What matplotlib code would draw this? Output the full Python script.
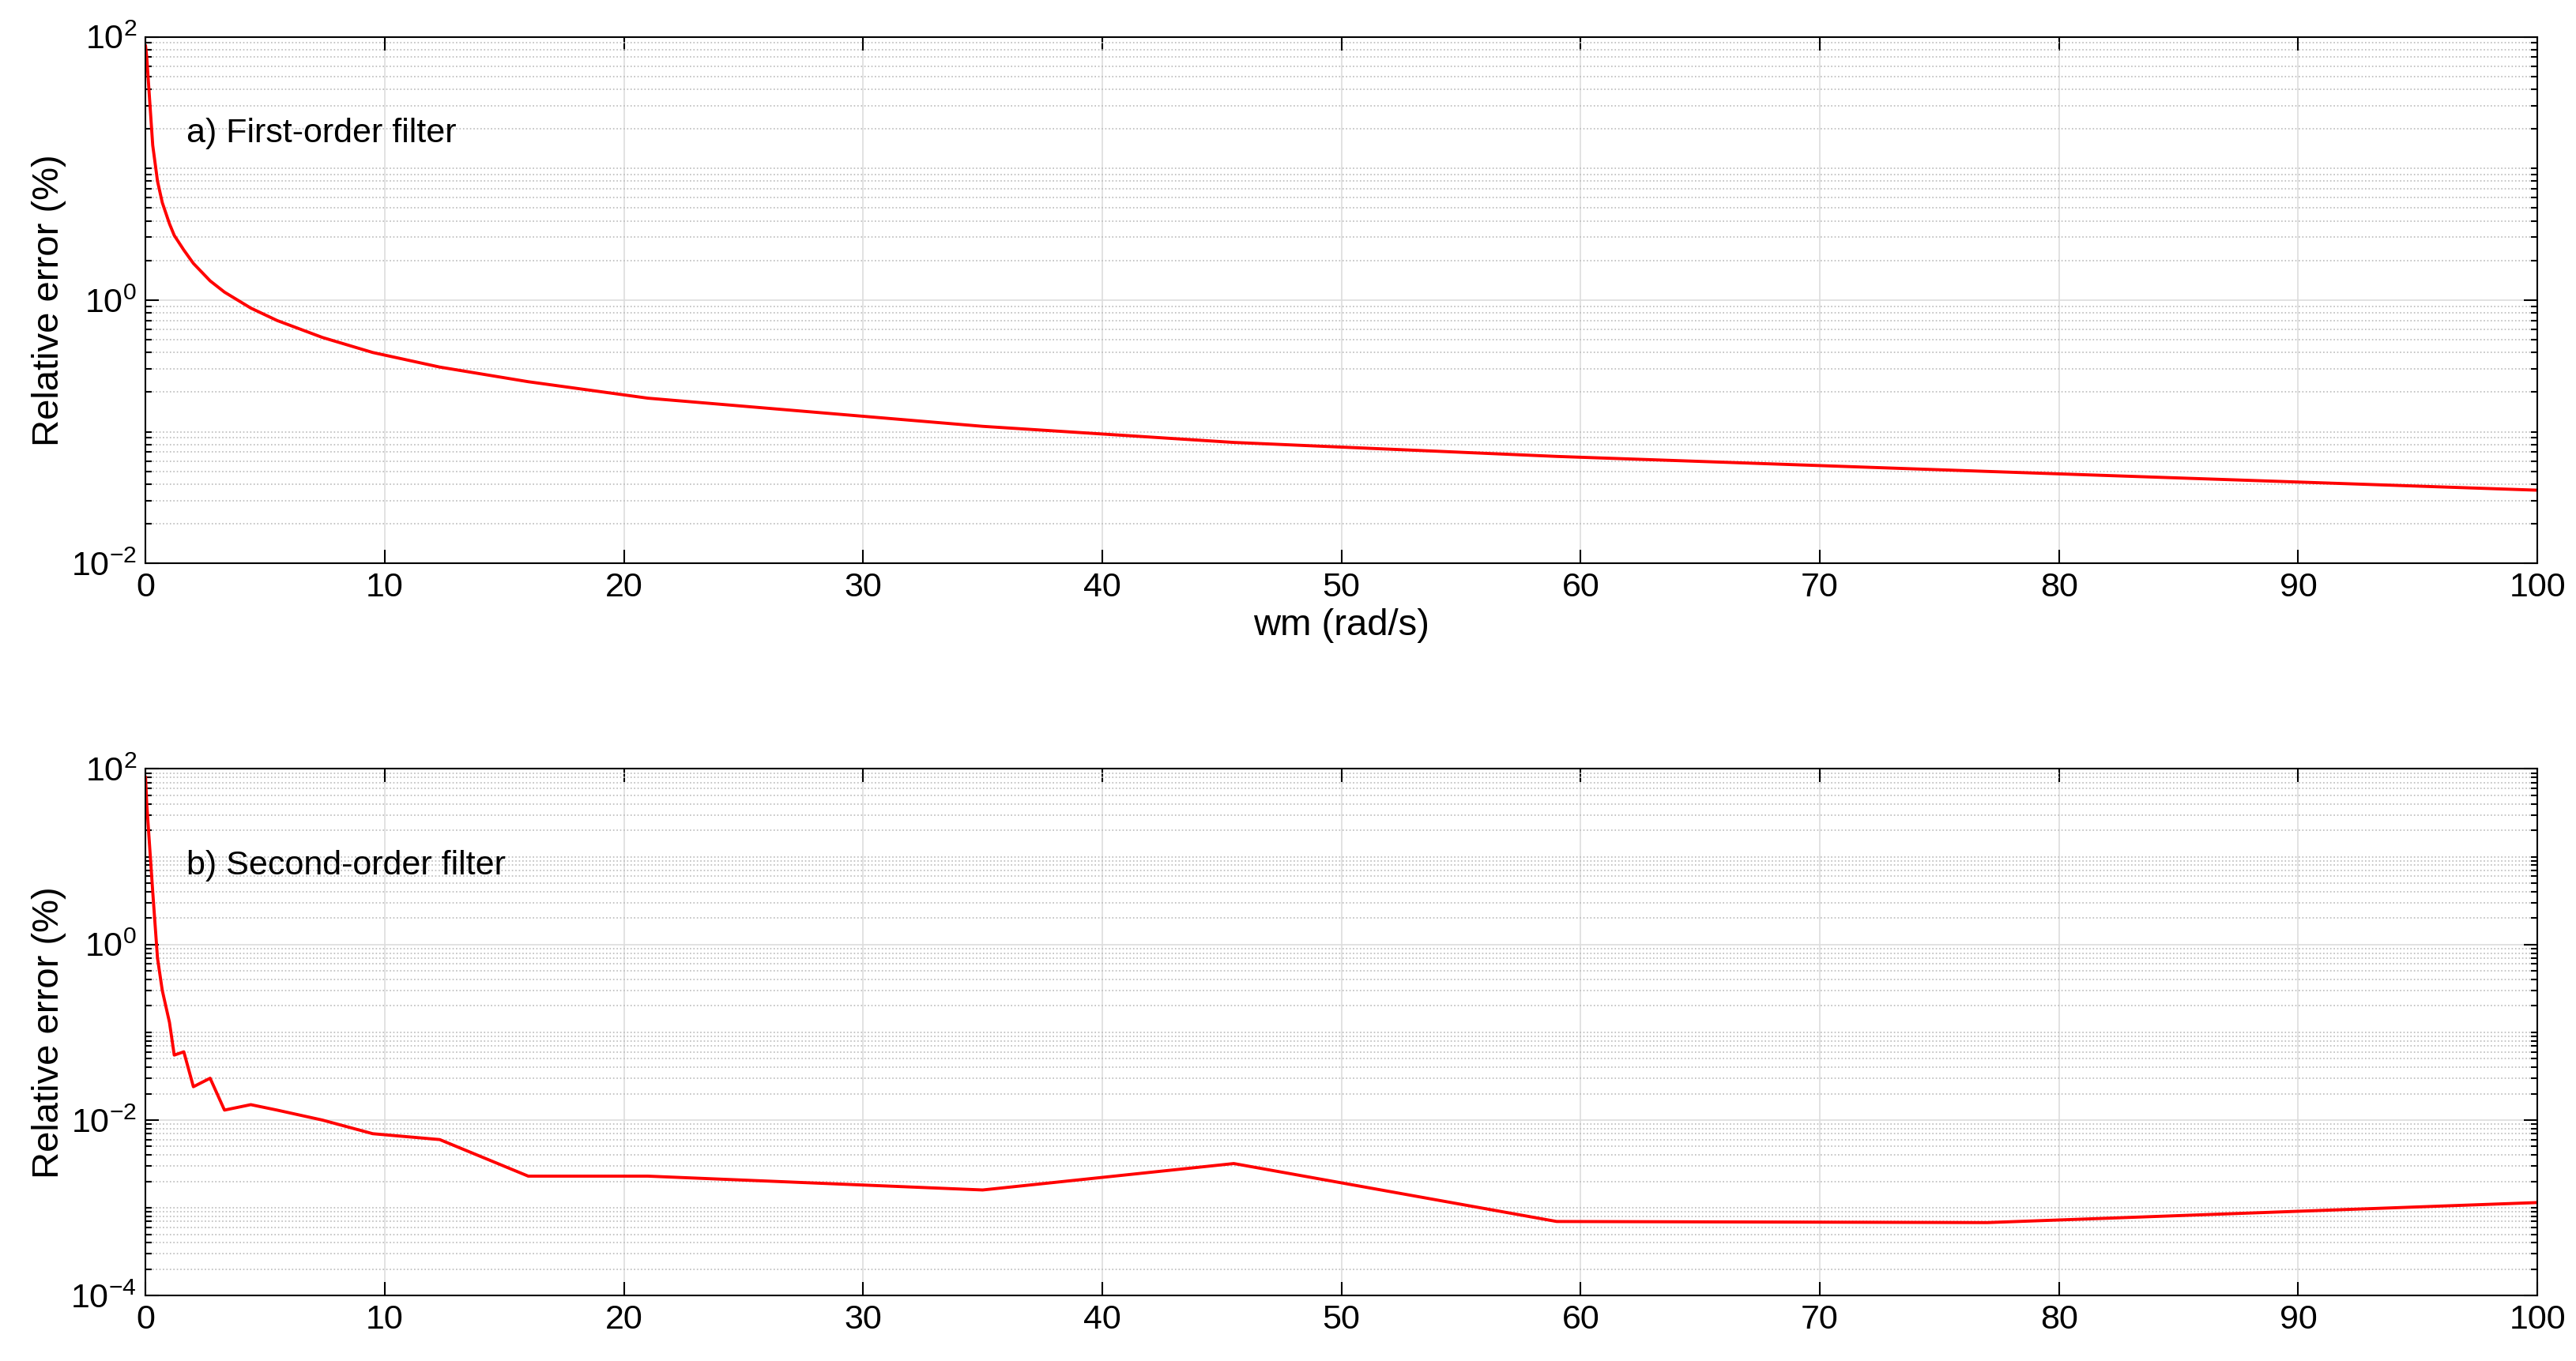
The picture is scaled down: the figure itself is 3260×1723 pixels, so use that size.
import matplotlib
matplotlib.use("Agg")
import matplotlib.pyplot as plt
import matplotlib.ticker as mt
import numpy as np

plt.rcParams['font.family'] = ['Liberation Sans', 'DejaVu Sans']
plt.rcParams['mathtext.fontset'] = 'custom'
plt.rcParams['mathtext.rm'] = 'Liberation Sans'

wm = [0.0, 0.05, 0.3, 0.5, 0.7, 1.0, 1.2, 1.6, 2.0, 2.7, 3.3, 4.4, 5.5, 7.4, 9.5,
      12.3, 16, 21, 35, 45.5, 59, 77, 100]
err1 = [85, 70, 15, 8, 5.5, 3.8, 3.1, 2.4, 1.9, 1.4, 1.15, 0.87, 0.7, 0.52, 0.4,
        0.31, 0.24, 0.18, 0.11, 0.083, 0.065, 0.05, 0.036]
err2 = [80, 40, 4, 0.7, 0.3, 0.13, 0.055, 0.06, 0.024, 0.03, 0.013, 0.015, 0.013,
        0.01, 0.007, 0.006, 0.0023, 0.0023, 0.0016, 0.0032, 0.0007, 0.00068, 0.00115]
xticks = list(range(0, 101, 10))

fig = plt.figure(figsize=(32.6, 17.23), dpi=100)
ax1 = fig.add_axes([0.0565, 0.586, 0.9285, 0.387])
ax2 = fig.add_axes([0.0565, 0.048, 0.9285, 0.387])

def style(ax, ylim, yt, label):
    ax.set_yscale('log')
    ax.set_xlim(0, 100)
    ax.set_ylim(*ylim)
    ax.set_xticks(xticks)
    ax.set_yticks(yt)
    ax.yaxis.set_minor_locator(mt.LogLocator(base=10, subs=np.arange(1, 10), numticks=50))
    ax.yaxis.set_minor_formatter(mt.NullFormatter())
    ax.grid(True, which='major', color='#dddddd', lw=1.2)
    ax.grid(True, which='minor', color='#bbbbbb', ls=':', lw=1.2)
    ax.tick_params(which='both', direction='in', top=True, right=True, labelsize=31, width=1.5)
    ax.tick_params(which='major', length=12, pad=8)
    ax.tick_params(which='minor', length=6)
    for s in ax.spines.values():
        s.set_linewidth(1.5)
    ax.set_ylabel('Relative error (%)', fontsize=34)
    ax.text(0.017, 0.8, label, transform=ax.transAxes, fontsize=31)

ax1.plot(wm, err1, color='red', lw=2.8)
style(ax1, (1e-2, 1e2), [1e-2, 1, 1e2], 'a) First-order filter')
ax1.set_xlabel('wm (rad/s)', fontsize=34)

ax2.plot(wm, err2, color='red', lw=2.8)
style(ax2, (1e-4, 1e2), [1e-4, 1e-2, 1, 1e2], 'b) Second-order filter')

fig.savefig('out.png', dpi=100)
